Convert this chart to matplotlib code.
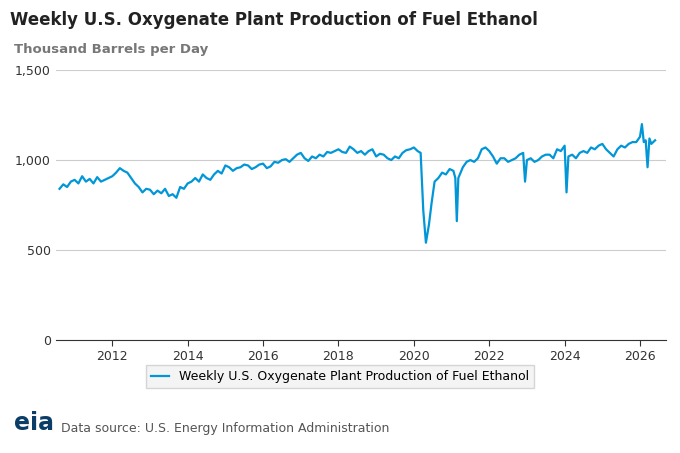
import matplotlib
matplotlib.use("Agg")
import matplotlib.pyplot as plt

# decimal year / thousand barrels per day
years = [2010.6, 2010.7, 2010.8, 2010.9, 2011.0, 2011.1, 2011.2, 2011.3, 2011.4, 2011.5, 2011.6, 2011.7,
         2011.8, 2011.9, 2012.0, 2012.1, 2012.2, 2012.3, 2012.4, 2012.5, 2012.6, 2012.7, 2012.8, 2012.9,
         2013.0, 2013.1, 2013.2, 2013.3, 2013.4, 2013.5, 2013.6, 2013.7, 2013.8, 2013.9, 2014.0, 2014.1,
         2014.2, 2014.3, 2014.4, 2014.5, 2014.6, 2014.7, 2014.8, 2014.9, 2015.0, 2015.1, 2015.2, 2015.3,
         2015.4, 2015.5, 2015.6, 2015.7, 2015.8, 2015.9, 2016.0, 2016.1, 2016.2, 2016.3, 2016.4, 2016.5,
         2016.6, 2016.7, 2016.8, 2016.9, 2017.0, 2017.1, 2017.2, 2017.3, 2017.4, 2017.5, 2017.6, 2017.7,
         2017.8, 2017.9, 2018.0, 2018.1, 2018.2, 2018.3, 2018.4, 2018.5, 2018.6, 2018.7, 2018.8, 2018.9,
         2019.0, 2019.1, 2019.2, 2019.3, 2019.4, 2019.5, 2019.6, 2019.7, 2019.8, 2019.9, 2020.0, 2020.1,
         2020.18, 2020.25, 2020.32, 2020.4, 2020.47, 2020.55, 2020.65, 2020.75, 2020.85, 2020.95, 2021.05,
         2021.1, 2021.14, 2021.18, 2021.3, 2021.4, 2021.5, 2021.6, 2021.7, 2021.8, 2021.9, 2022.0, 2022.1,
         2022.2, 2022.3, 2022.4, 2022.5, 2022.6, 2022.7, 2022.8, 2022.9, 2022.95, 2023.0, 2023.1, 2023.2,
         2023.3, 2023.4, 2023.5, 2023.6, 2023.7, 2023.8, 2023.9, 2024.0, 2024.05, 2024.1, 2024.2, 2024.3,
         2024.4, 2024.5, 2024.6, 2024.7, 2024.8, 2024.9, 2025.0, 2025.1, 2025.2, 2025.3, 2025.4, 2025.5,
         2025.6, 2025.7, 2025.8, 2025.9, 2026.0, 2026.05, 2026.1, 2026.15, 2026.2, 2026.25, 2026.3, 2026.4]
production = [840, 865, 850, 880, 890, 870, 910, 880, 895, 870, 905, 880,
              890, 900, 910, 930, 955, 940, 930, 900, 870, 850, 820, 840,
              835, 810, 830, 815, 840, 800, 810, 790, 850, 840, 870, 880,
              900, 880, 920, 900, 890, 920, 940, 925, 970, 960, 940, 955,
              960, 975, 970, 950, 960, 975, 980, 955, 965, 990, 985, 1000,
              1005, 990, 1010, 1030, 1040, 1010, 995, 1020, 1010, 1030, 1020, 1045,
              1040, 1050, 1060, 1045, 1040, 1075, 1060, 1040, 1050, 1030, 1050, 1060,
              1020, 1035, 1030, 1010, 1000, 1020, 1010, 1040, 1055, 1060, 1070, 1050,
              1040, 720, 540, 640, 760, 880, 900, 930, 920, 950, 940,
              900, 660, 900, 960, 990, 1000, 990, 1010, 1060, 1070, 1050, 1020,
              980, 1010, 1010, 990, 1000, 1010, 1030, 1040, 880, 1000, 1010, 990,
              1000, 1020, 1030, 1030, 1010, 1060, 1050, 1080, 820, 1020, 1030, 1010,
              1040, 1050, 1040, 1070, 1060, 1080, 1090, 1060, 1040, 1020, 1060, 1080,
              1070, 1090, 1100, 1100, 1130, 1200, 1100, 1110, 960, 1120, 1090, 1110]

BLUE = "#0096d7"

fig = plt.figure(figsize=(6.8, 4.53), dpi=100)
ax = fig.add_axes([0.082, 0.25, 0.898, 0.595])
ax.plot(years, production, color=BLUE, lw=1.6)

ax.set_xlim(2010.5, 2026.7)
ax.set_ylim(0, 1500)
ax.set_yticks([0, 500, 1000, 1500])
ax.set_yticklabels(["0", "500", "1,000", "1,500"])
ax.set_xticks(range(2012, 2027, 2))
ax.yaxis.grid(True, color="#cccccc", lw=0.8)
for s in ["top", "right", "left"]:
    ax.spines[s].set_visible(False)
ax.spines["bottom"].set_color("#333333")
ax.tick_params(axis="y", length=0, labelsize=9, colors="#333333")
ax.tick_params(axis="x", labelsize=9, colors="#333333", length=4)

fig.text(0.015, 0.955, "Weekly U.S. Oxygenate Plant Production of Fuel Ethanol",
         fontsize=12, fontweight="bold", color="#222222", va="center")
fig.text(0.02, 0.89, "Thousand Barrels per Day", fontsize=9.5, fontweight="bold",
         color="#777777", va="center")

leg = fig.legend(["Weekly U.S. Oxygenate Plant Production of Fuel Ethanol"],
                 loc="center", bbox_to_anchor=(0.5, 0.168), fontsize=9,
                 frameon=True, fancybox=False, edgecolor="#cccccc", handlelength=1.5)
leg.get_frame().set_facecolor("#f2f2f2")

fig.text(0.02, 0.04, "eia", fontsize=17, fontweight="bold", color="#0b3d66", va="bottom")
fig.text(0.09, 0.04, "Data source: U.S. Energy Information Administration",
         fontsize=9, color="#555555", va="bottom")

fig.savefig("out.png", dpi=100)
